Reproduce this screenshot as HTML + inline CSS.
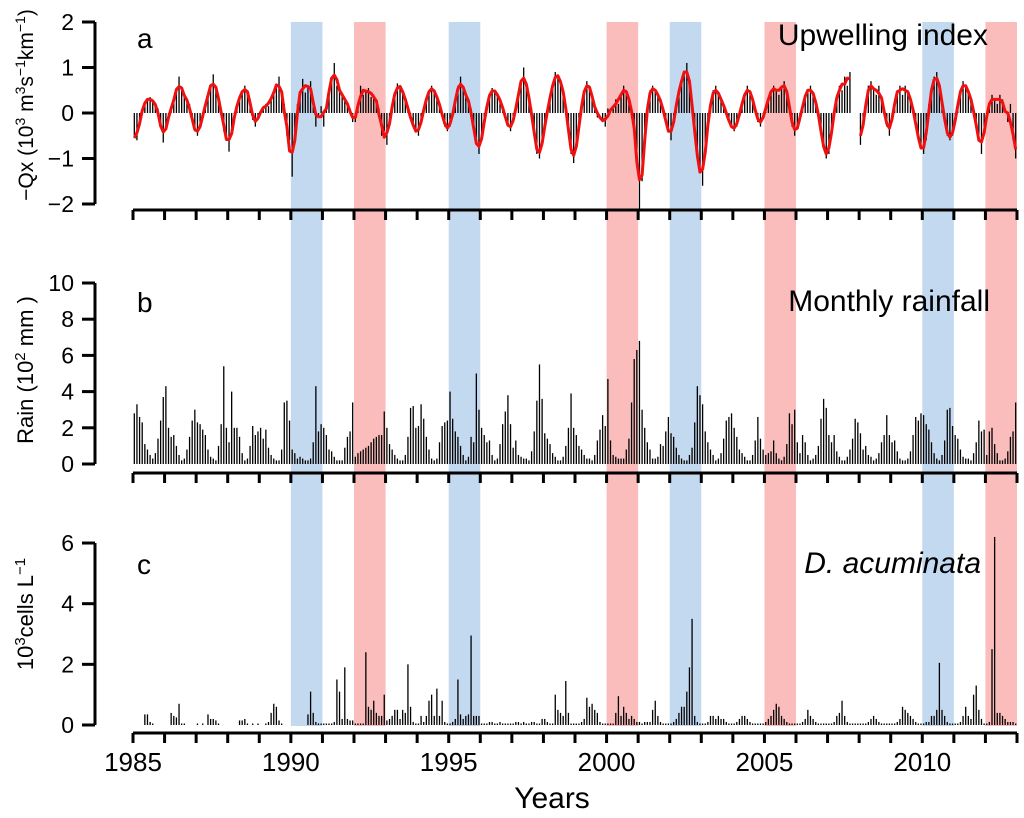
<!DOCTYPE html>
<html><head><meta charset="utf-8">
<style>
body{margin:0;background:#fff;}
svg{display:block;font-family:"Liberation Sans",Arial,sans-serif;}
</style></head>
<body>
<svg id="chart" width="1024" height="818" viewBox="0 0 1024 818">
<g id="bands"></g>
<g id="pa"></g>
<g id="pb"></g>
<g id="pc"></g>
<g id="axes"></g>
<text x="137" y="48" font-size="28">a</text>
<text x="988" y="45" font-size="30" text-anchor="end">Upwelling index</text>
<text x="137" y="312" font-size="28">b</text>
<text x="990" y="311" font-size="30" text-anchor="end">Monthly rainfall</text>
<text x="137" y="574" font-size="28">c</text>
<text x="981" y="573" font-size="30" font-style="italic" text-anchor="end">D. acuminata</text>
<text x="552" y="808" font-size="30" text-anchor="middle">Years</text>
<text transform="translate(33,105) rotate(-90)" font-size="21" text-anchor="middle">−Qx  (10<tspan dy="-8" font-size="14">3</tspan><tspan dy="8"> m</tspan><tspan dy="-8" font-size="14">3</tspan><tspan dy="8">s</tspan><tspan dy="-8" font-size="14">−1</tspan><tspan dy="8">km</tspan><tspan dy="-8" font-size="14">−1</tspan><tspan dy="8">)</tspan></text>
<text transform="translate(33,370) rotate(-90)" font-size="22" text-anchor="middle">Rain (10<tspan dy="-8" font-size="15">2</tspan><tspan dy="8"> mm )</tspan></text>
<text transform="translate(33,614) rotate(-90)" font-size="22" text-anchor="middle">10<tspan dy="-8" font-size="15">3</tspan><tspan dy="8">cells  L</tspan><tspan dy="-8" font-size="15">−1</tspan></text>
</svg>
<script>
const NS="http://www.w3.org/2000/svg";
const startYear=1985, endYear=2013;
const xTickYears=[1985,1990,1995,2000,2005,2010];
const bandStarts=[1990,1992,1995,2000,2002,2005,2010,2012];
const bandTypes=["blue","red","blue","red","blue","red","blue","red"];
const upwellingTicks=[-2,-1,0,1,2];
const rainTicks=[0,2,4,6,8,10];
const cellTicks=[0,2,4,6];
const n=null;
const upwelling=[
-0.5,-0.6,-0.2,0.1,0.25,0.3,0.35,0.25,0.2,0.1,-0.3,-0.65,
-0.3,-0.1,0.1,0.3,0.45,0.8,0.5,0.35,0.3,0.2,-0.2,-0.4,
-0.5,-0.3,-0.1,0.2,0.4,0.55,0.85,0.5,0.35,0.1,-0.4,-0.5,
-0.85,-0.4,-0.1,0.2,0.35,0.45,0.6,0.5,0.3,-0.15,-0.3,-0.1,
0.05,0.1,0.2,0.15,0.3,0.5,0.55,0.8,0.4,0.2,-0.5,-0.6,
-1.4,-0.6,0.2,0.4,0.75,0.45,0.6,0.7,0.3,-0.3,-0.1,0.15,
-0.3,0.2,0.4,0.8,1.1,0.6,0.5,0.4,0.3,0.2,0.1,-0.2,
-0.2,0.1,0.6,0.4,0.5,0.55,0.35,0.4,0.3,0.1,-0.5,-0.4,
-0.7,-0.2,0.2,0.4,0.65,0.6,0.5,0.3,0.1,-0.1,-0.3,-0.4,
-0.5,-0.2,0.1,0.3,0.5,0.6,0.5,0.35,0.2,0.0,-0.3,-0.4,
-0.3,0.0,0.2,0.6,0.8,0.5,0.4,0.3,0.1,-0.4,-0.7,-0.9,
-0.6,-0.2,0.2,0.4,0.55,0.5,0.4,0.3,0.15,-0.1,-0.3,-0.4,
-0.2,0.1,0.4,0.7,1.0,0.6,0.3,0.1,-0.5,-0.9,-1.0,-0.7,
-0.3,0.1,0.3,0.6,0.9,0.85,0.7,0.5,0.2,-0.4,-0.9,-1.1,
-0.8,-0.3,0.2,0.5,0.7,0.6,0.4,0.1,-0.1,0.0,-0.2,-0.3,
0.1,0.0,0.1,0.3,0.2,0.4,0.6,0.5,0.3,0.1,-0.3,-0.8,
-2.1,-1.5,-0.5,0.2,0.5,0.6,0.5,0.4,0.3,0.1,-0.2,-0.4,
-0.6,-0.2,0.2,0.5,0.7,0.9,1.1,0.7,0.3,-0.5,-1.0,-1.3,
-1.6,-0.8,-0.2,0.2,0.5,0.6,0.4,0.3,0.2,0.0,-0.2,-0.3,
-0.4,-0.3,0.0,0.2,0.4,0.6,0.5,0.3,0.1,-0.2,-0.3,-0.1,
0.1,0.3,0.5,0.6,0.5,0.4,0.6,0.7,0.5,0.2,-0.3,-0.5,
-0.3,-0.2,0.2,0.4,0.5,0.6,0.4,0.3,0.0,-0.4,-0.8,-1.0,
-0.9,-0.4,0.0,0.4,0.6,0.5,0.8,0.6,0.9,n,n,n,
-0.7,-0.3,0.2,0.6,0.7,0.5,0.4,0.6,0.3,0.1,-0.3,-0.5,
-0.2,0.3,0.5,0.6,0.4,0.6,0.5,0.3,0.1,-0.2,-0.6,-0.8,
-0.9,-0.6,0.2,0.5,0.8,0.9,0.6,0.3,-0.2,-0.5,-0.6,-0.5,
-0.2,0.2,0.5,0.7,0.6,0.5,0.3,0.1,-0.3,-0.6,-0.9,-0.4,
0.0,0.2,0.4,0.3,0.2,0.4,0.3,0.0,-0.2,0.2,-0.6,-1.0];
const rain=[
2.8,3.3,2.6,2.3,1.1,0.8,0.5,0.3,0.6,1.4,2.4,3.7,
4.3,2.0,1.5,1.6,1.0,0.5,0.2,0.3,0.8,1.5,2.4,3.0,
2.3,2.2,1.9,1.6,0.8,0.4,0.3,0.2,1.0,2.2,5.4,2.0,
1.2,4.0,2.0,2.0,1.5,0.6,0.2,0.3,1.0,2.1,1.6,1.8,
2.0,1.4,1.9,0.9,0.5,0.3,0.2,0.2,0.8,3.4,3.5,2.4,
0.8,0.6,0.3,0.4,0.3,0.2,0.2,0.3,1.2,4.3,1.8,2.2,
2.0,1.6,0.8,0.7,0.4,0.2,0.2,0.2,0.9,1.5,1.8,3.4,
0.4,0.6,0.7,0.8,0.9,1.0,1.2,1.4,1.5,1.6,1.6,2.9,
2.0,1.1,0.8,0.5,0.3,0.2,0.2,0.5,1.5,3.1,3.2,2.0,
2.1,3.3,2.5,1.5,0.8,0.3,0.2,0.3,1.2,2.1,2.3,2.4,
4.0,2.5,1.8,1.5,1.0,0.5,0.2,0.4,1.5,1.2,5.0,3.0,
2.0,1.6,1.2,1.3,0.5,0.2,0.3,1.1,2.2,2.9,3.8,2.2,
0.9,1.3,0.5,0.4,0.3,0.3,0.2,0.7,1.8,3.5,5.5,3.6,
1.7,1.4,1.1,0.6,0.4,0.2,0.2,0.4,1.0,2.0,3.9,2.0,
1.6,1.0,0.8,0.5,0.3,0.3,0.2,0.5,1.3,1.9,2.7,2.1,
4.7,1.3,0.5,0.4,0.3,0.3,0.3,0.8,1.4,3.4,5.8,6.3,
6.8,3.0,2.0,1.2,0.8,0.3,0.3,0.4,1.1,1.0,1.8,2.6,
1.7,1.5,0.9,0.5,0.3,0.2,0.2,0.5,0.9,2.3,4.3,3.8,
3.3,1.8,1.2,0.8,0.5,0.2,0.3,0.6,1.4,2.4,2.6,2.8,
2.0,1.5,0.8,0.6,0.4,0.2,0.2,0.5,1.3,2.6,1.4,0.8,
0.5,0.6,0.7,1.3,0.6,0.3,0.2,0.4,1.1,2.8,2.2,3.0,
1.2,0.6,1.6,1.2,0.5,0.2,0.3,0.5,1.0,2.5,3.6,3.1,
1.6,1.2,1.6,0.7,0.4,0.2,0.2,0.4,0.8,1.4,2.5,2.3,
1.7,0.8,1.0,0.5,0.4,0.2,0.3,0.6,1.2,1.6,2.7,1.6,
1.2,1.3,0.7,0.3,0.2,0.2,0.3,0.7,1.6,2.6,2.4,2.8,
2.7,2.2,1.9,1.2,0.6,0.3,0.2,0.5,1.3,3.0,3.1,2.1,
1.6,1.4,0.8,0.4,0.3,0.3,0.2,0.6,1.2,2.4,1.8,1.9,
0.5,1.8,2.0,1.1,0.6,0.2,0.2,0.3,0.7,1.5,1.8,3.4];
const cells=[
n,n,n,n,0.35,0.35,0.1,0.05,n,n,n,n,
n,n,0.4,0.3,0.25,0.7,0.05,0.05,n,n,n,n,
0.05,n,0.05,n,0.35,0.2,0.2,0.15,0.05,n,n,n,
n,n,n,n,0.15,0.15,0.2,0.05,n,0.05,n,0.05,
n,n,0.05,0.1,0.4,0.7,0.6,0.15,0.05,n,n,n,
n,n,n,n,n,n,0.35,1.1,0.4,0.1,0.05,0.05,
0.05,0.05,0.05,0.05,0.1,1.5,1.1,0.2,1.9,0.2,0.15,0.15,
0.05,0.05,0.05,0.05,2.4,0.6,0.5,0.8,0.4,0.3,0.3,1.0,
0.15,0.2,0.3,0.5,0.5,0.2,0.5,0.4,2.0,0.6,0.1,0.05,
0.05,0.3,0.1,0.3,0.8,1.0,0.3,1.2,0.3,0.8,0.1,0.05,
0.05,0.1,0.2,1.5,0.35,0.2,0.3,0.35,2.95,0.3,0.3,0.3,
0.05,0.05,0.05,0.1,0.1,0.05,0.05,0.1,0.05,0.05,0.05,0.05,
0.05,0.1,0.1,0.05,0.1,0.05,0.05,0.1,0.1,0.05,0.05,0.2,
0.2,0.1,0.05,0.05,1.0,0.5,0.4,0.3,1.45,0.4,0.05,0.05,
0.05,0.05,0.1,0.2,0.9,0.6,0.7,0.5,0.4,0.1,0.05,0.05,
0.05,0.05,0.05,0.4,0.95,0.3,0.6,0.4,0.2,0.3,0.2,0.1,
0.1,0.05,0.1,0.1,0.1,0.5,0.8,0.3,0.1,0.05,0.05,0.05,
0.05,0.1,0.2,0.4,0.6,0.6,1.1,1.9,3.5,0.3,0.1,0.05,
0.05,0.05,0.1,0.3,0.3,0.2,0.3,0.2,0.2,0.1,0.05,0.05,
0.05,0.1,0.2,0.3,0.3,0.2,0.1,0.05,0.05,0.05,0.05,0.05,
0.1,0.2,0.3,0.5,0.7,0.6,0.3,0.2,0.1,0.05,0.05,0.05,
0.05,0.05,0.1,0.2,0.5,0.3,0.2,0.1,0.05,0.05,0.05,0.05,
0.05,0.05,0.1,0.3,0.4,0.8,0.3,0.1,0.05,0.05,0.05,0.05,
0.05,0.05,0.05,0.1,0.2,0.3,0.2,0.1,0.05,0.05,0.05,0.05,
0.05,0.05,0.1,0.2,0.6,0.5,0.4,0.3,0.2,0.1,0.05,0.05,
0.05,0.1,0.1,0.3,0.3,0.5,2.05,0.5,0.3,0.1,0.05,0.05,
0.05,0.05,0.1,0.3,0.6,0.3,0.2,1.0,1.3,0.5,0.2,0.05,
0.05,0.1,2.5,6.2,0.4,0.4,0.3,0.2,0.1,0.1,0.1,0.05];

const X0=133,X1=1017;
const xs=t=>X0+(t-startYear)/(endYear-startYear)*(X1-X0);
const ya=v=>113-v*45.5;
const yb=v=>464-v*18.1;
const yc=v=>725-v*30.33;
function el(tag,attrs,parent){const e=document.createElementNS(NS,tag);for(const k in attrs)e.setAttribute(k,attrs[k]);parent.appendChild(e);return e;}
const bands=document.getElementById('bands');
bandStarts.forEach((b,i)=>{
  const r=el('rect',{x:xs(b),y:22,width:xs(b+1)-xs(b),height:704,fill:bandTypes[i]=="blue"?"#c3d9f0":"#fbbcbc"},bands);
  
  
});
function bars(arr,yf,g,name){
  arr.forEach((v,i)=>{
    if(v===null)return;
    const x=xs(startYear+(i+0.5)/12);
    const l=el('line',{x1:x,x2:x,y1:yf(0),y2:yf(v),stroke:"#000","stroke-width":1.3},g);
    
    
  });
}
const pa=document.getElementById('pa'),pb=document.getElementById('pb'),pc=document.getElementById('pc');
bars(upwelling,ya,pa,'upwelling-bar');
bars(rain,yb,pb,'rain-bar');
bars(cells,yc,pc,'cells-bar');
let segs=[],cur=[];
upwelling.forEach((v,i)=>{
  if(v===null){if(cur.length)segs.push(cur);cur=[];return;}
  let s=0,c=0;for(let k=i-1;k<=i+1;k++){if(k>=0&&k<upwelling.length&&upwelling[k]!==null){s+=upwelling[k];c++;}}
  cur.push([xs(startYear+(i+0.5)/12),ya(s/c)]);
});
if(cur.length)segs.push(cur);
segs.forEach(sg=>{
  const p=el('polyline',{points:sg.map(p=>p.join(',')).join(' '),fill:"none",stroke:"#f01010","stroke-width":3,"stroke-linejoin":"round"},pa);
  
  
});
const ax=document.getElementById('axes');
function xAxis(y,labels){
  const l=el('line',{x1:X0,x2:X1,y1:y,y2:y,stroke:"#000","stroke-width":3},ax);
  
  
  for(let yr=startYear;yr<=endYear;yr++){
    const t=el('line',{x1:xs(yr),x2:xs(yr),y1:y,y2:y+10,stroke:"#000","stroke-width":3},ax);
    
    
  }
  if(labels)xTickYears.forEach(yr=>{
    const tx=el('text',{x:xs(yr),y:y+38,"font-size":26,"text-anchor":"middle"},ax);
    tx.textContent=yr;
    
    
  });
}
function yAxis(ticks,yf,lab){
  const l=el('line',{x1:95,x2:95,y1:yf(ticks[0]),y2:yf(ticks[ticks.length-1]),stroke:"#000","stroke-width":3},ax);
  
  
  ticks.forEach(v=>{
    const t=el('line',{x1:82,x2:95,y1:yf(v),y2:yf(v),stroke:"#000","stroke-width":3},ax);
    
    
    const tx=el('text',{x:74,y:yf(v)+8,"font-size":23,"text-anchor":"end"},ax);
    tx.textContent=lab(v);
    
    
  });
}
xAxis(210,false);xAxis(473,false);xAxis(733,true);
yAxis(upwellingTicks,ya,v=>v<0?"−"+(-v):""+v);
yAxis(rainTicks,yb,v=>""+v);
yAxis(cellTicks,yc,v=>""+v);
</script>
</body></html>
